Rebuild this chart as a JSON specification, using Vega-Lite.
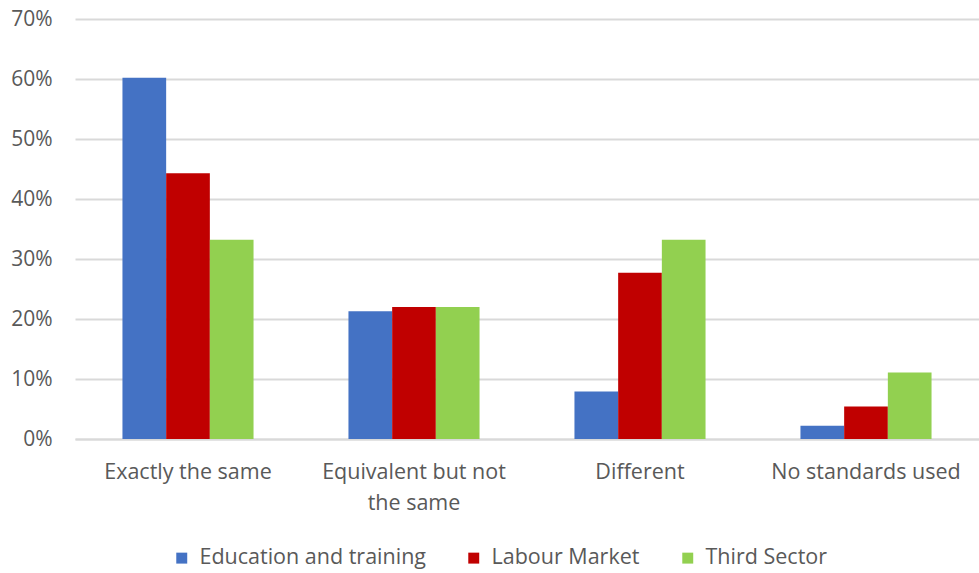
{
  "$schema": "https://vega.github.io/schema/vega-lite/v6.json",
  "width": 904,
  "height": 420,
  "autosize": "none",
  "padding": {"left": 75, "top": 19, "right": 0, "bottom": 134},
  "background": "white",
  "config": {
    "view": {"stroke": null},
    "font": "Open Sans"
  },
  "data": {
    "values": [
      {"category": "Exactly the same", "sector": "Education and training", "value": 0.602},
      {"category": "Exactly the same", "sector": "Labour Market", "value": 0.443},
      {"category": "Exactly the same", "sector": "Third Sector", "value": 0.332},
      {"category": "Equivalent but not the same", "sector": "Education and training", "value": 0.213},
      {"category": "Equivalent but not the same", "sector": "Labour Market", "value": 0.22},
      {"category": "Equivalent but not the same", "sector": "Third Sector", "value": 0.22},
      {"category": "Different", "sector": "Education and training", "value": 0.079},
      {"category": "Different", "sector": "Labour Market", "value": 0.277},
      {"category": "Different", "sector": "Third Sector", "value": 0.332},
      {"category": "No standards used", "sector": "Education and training", "value": 0.022},
      {"category": "No standards used", "sector": "Labour Market", "value": 0.054},
      {"category": "No standards used", "sector": "Third Sector", "value": 0.111}
    ]
  },
  "mark": {"type": "bar"},
  "encoding": {
    "x": {
      "field": "category",
      "type": "nominal",
      "sort": null,
      "title": null,
      "scale": {"paddingInner": 0.42, "paddingOuter": 0.21},
      "axis": {
        "labelAngle": 0,
        "labelFont": "Open Sans",
        "labelFontSize": 21.5,
        "labelColor": "#595959",
        "labelPadding": 22,
        "labelLineHeight": 31,
        "labelBaseline": "top",
        "labelLimit": 0,
        "ticks": false,
        "domainColor": "#d9d9d9",
        "domainWidth": 2,
        "labelExpr": "datum.label == 'Equivalent but not the same' ? ['Equivalent but not', 'the same'] : datum.label"
      }
    },
    "xOffset": {"field": "sector", "type": "nominal", "sort": ["Education and training", "Labour Market", "Third Sector"]},
    "y": {
      "field": "value",
      "type": "quantitative",
      "title": null,
      "scale": {"domain": [0, 0.7], "nice": false},
      "axis": {
        "format": ".0%",
        "values": [0, 0.1, 0.2, 0.3, 0.4, 0.5, 0.6, 0.7],
        "labelFont": "Open Sans",
        "labelFontSize": 21,
        "labelColor": "#595959",
        "labelPadding": 23,
        "ticks": false,
        "tickSize": 0,
        "domain": false,
        "gridColor": "#d9d9d9",
        "gridWidth": 2
      }
    },
    "color": {
      "field": "sector",
      "type": "nominal",
      "sort": ["Education and training", "Labour Market", "Third Sector"],
      "scale": {"domain": ["Education and training", "Labour Market", "Third Sector"], "range": ["#4472C4", "#C00000", "#92D050"]},
      "legend": {
        "title": null,
        "orient": "none",
        "direction": "horizontal",
        "legendX": 96,
        "legendY": 528,
        "symbolType": "square",
        "symbolSize": 120,
        "symbolStrokeWidth": 0,
        "labelFont": "Open Sans",
        "labelFontSize": 21.5,
        "labelColor": "#595959",
        "labelLimit": 0,
        "columnPadding": 37,
        "labelOffset": 7
      }
    }
  }
}
